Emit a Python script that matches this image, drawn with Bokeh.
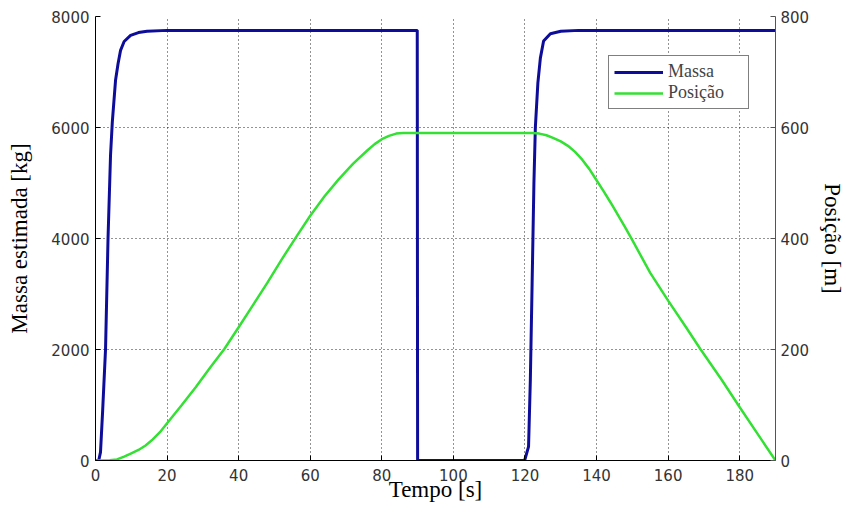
from bokeh.plotting import figure
from bokeh.models import Range1d, LinearAxis, FixedTicker, Legend, LegendItem
from bokeh.embed import file_html
from bokeh.resources import INLINE

# ---- data ----
massa_t = [0, 0.9, 1.4, 2.0, 2.8, 3.5, 4.2, 4.7, 5.6, 6.3, 7.0, 8.0, 9.8, 12.0, 14.4, 20.0,
           89.9, 90.0, 119.9, 121.0, 121.5, 122.0, 122.5, 122.9, 123.6, 124.3, 125.2,
           127.1, 130.0, 135.0, 190.0]
massa_kg = [0, 0, 150, 900, 2000, 4000, 5500, 6100, 6850, 7150, 7390, 7550, 7660, 7710, 7735, 7750,
            7750, 0, 0, 250, 1450, 3200, 5000, 6000, 6800, 7250, 7560,
            7690, 7735, 7750, 7750]

pos_t = [0, 2, 4, 6, 8, 10, 12, 14, 16, 18, 20, 24, 28, 32, 36, 40, 44, 48, 52, 56, 60,
         64, 68, 72, 76, 78, 80, 82, 84, 86, 90, 100, 110, 120, 122, 124, 126, 128, 130,
         132, 134, 136, 138, 140, 142, 144, 146, 148, 150, 155, 160, 165, 169, 175, 180,
         185, 190]
pos_m = [0, 0, 0.5, 2, 7, 13, 19, 27, 38, 51, 67, 99, 132, 167, 201, 240, 280, 320, 362, 402, 441,
         476, 507, 535, 559, 570, 579, 585, 589, 590, 590, 590, 590, 590, 590, 589, 586, 581, 575,
         567, 556, 542, 525, 505, 485, 464, 442, 420, 397, 338, 288, 240, 201, 145, 96,
         48, 0]

x_ticks = [0, 20, 40, 60, 80, 100, 120, 140, 160, 180]
y_ticks = [0, 2000, 4000, 6000, 8000]
y2_ticks = [0, 200, 400, 600, 800]

TICK_FONT = "DejaVu Sans"
TITLE_FONT = "Liberation Serif"

p = figure(frame_width=680, frame_height=444, output_backend="svg", toolbar_location=None,
           x_range=Range1d(0, 190), y_range=Range1d(0, 8000),
           min_border_left=95, min_border_right=63, min_border_top=16, min_border_bottom=45)
p.extra_y_ranges = {"pos": Range1d(0, 800)}
p.outline_line_color = None
p.background_fill_color = "white"

# grids
for g in (p.xgrid[0], p.ygrid[0]):
    g.grid_line_color = "black"
    g.grid_line_dash = "1 3"
    g.grid_line_width = 1
    g.grid_line_alpha = 0.85
p.xgrid[0].ticker = FixedTicker(ticks=x_ticks)
p.ygrid[0].ticker = FixedTicker(ticks=y_ticks)

# axes
xa = p.xaxis[0]
xa.ticker = FixedTicker(ticks=x_ticks)
xa.axis_label = "Tempo [s]"
ya = p.yaxis[0]
ya.ticker = FixedTicker(ticks=y_ticks)
ya.axis_label = "Massa estimada [kg]"

ya2 = LinearAxis(y_range_name="pos", ticker=FixedTicker(ticks=y2_ticks), axis_label="Posição [m]")
p.add_layout(ya2, "right")

for ax in (xa, ya, ya2):
    ax.major_label_text_font = TICK_FONT
    ax.major_label_text_font_size = "15px"
    ax.major_label_text_color = "#333333"
    ax.axis_label_text_font = TITLE_FONT
    ax.axis_label_text_font_size = "23px"
    ax.axis_label_text_font_style = "normal"
    ax.axis_label_text_color = "black"
    ax.major_tick_in = 5
    ax.major_tick_out = 0
    ax.minor_tick_in = 0
    ax.minor_tick_out = 0
    ax.axis_line_color = "black"
    ax.major_tick_line_color = "black"
ya2.axis_line_color = "#555555"
ya2.major_tick_line_color = "#555555"

xa.major_label_standoff = 8
xa.axis_label_standoff = -7
ya.major_label_standoff = 6
ya.axis_label_standoff = 16
ya2.major_label_standoff = 5
ya2.axis_label_standoff = 8

r1 = p.line(massa_t, massa_kg, line_color="#0d0d9a", line_width=3)
r2 = p.line(pos_t, pos_m, y_range_name="pos", line_color="#33e033", line_width=2.5)

legend = Legend(items=[LegendItem(label="Massa", renderers=[r1]),
                       LegendItem(label="Posição", renderers=[r2])],
                location=(513, 351))
legend.label_text_font = TITLE_FONT
legend.label_text_font_size = "18px"
legend.border_line_color = "black"
legend.border_line_width = 1
legend.background_fill_alpha = 1
legend.glyph_width = 49
legend.glyph_height = 20
legend.label_height = 20
legend.label_width = 75
legend.label_standoff = 5
legend.spacing = 0
legend.padding = 5
legend.margin = 0
p.add_layout(legend, "center")

open("out.html", "w").write(file_html(p, INLINE))
